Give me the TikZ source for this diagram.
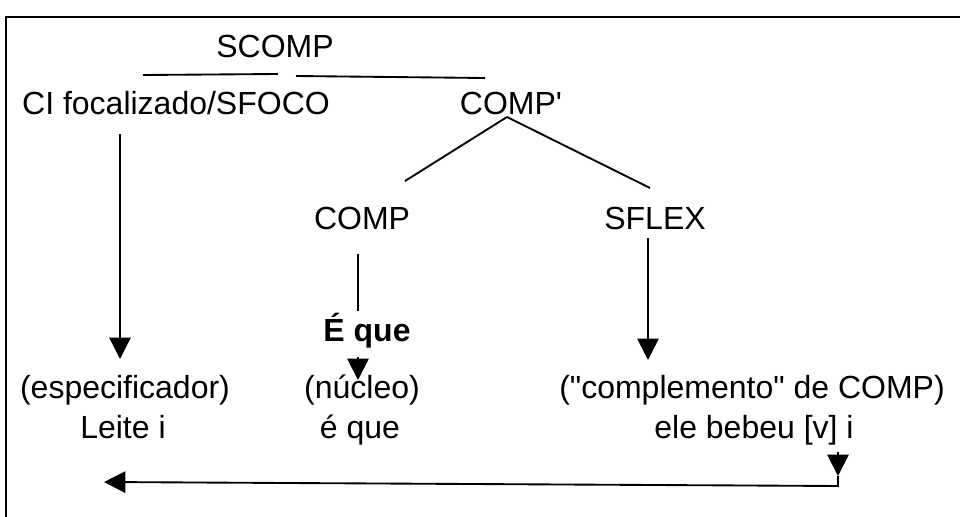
\documentclass[tikz,border=0pt]{standalone}
\usepackage{fontspec}
\setmainfont{Liberation Sans}[Ligatures=TeXOff]
\usetikzlibrary{arrows.meta}
\begin{document}
\begin{tikzpicture}[x=0.75pt,y=-0.75pt,
  lbl/.style={anchor=base,inner sep=0pt,font=\fontsize{24}{28}\selectfont},
  ln/.style={line width=1.4pt},
  arr/.style={line width=1.4pt,-{Triangle[width=16pt,length=16pt]}}]
\useasboundingbox (0,0) rectangle (960,517);
% frame (top and left edges)
\draw[line width=1.4pt] (6,517) -- (6,17) -- (960,17);
% texts
\node[lbl] (scomp) at (275,58) {SCOMP};
\node[lbl] (ci) at (176,114) {CI focalizado/SFOCO};
\node[lbl] (compb) at (511,114) {COMP'};
\node[lbl] (comp) at (362,229) {COMP};
\node[lbl] (sflex) at (655,229) {SFLEX};
\node[lbl] (eque) at (367,341) {\bfseries É que};
\node[lbl] (esp) at (125,398) {(especificador)};
\node[lbl] (nuc) at (362,398) {(núcleo)};
\node[lbl] (cmpl) at (752,398) {("complemento" de COMP)};
\node[lbl] (leite) at (123,438) {Leite i};
\node[lbl] (que) at (360,438) {é que};
\node[lbl] (bebeu) at (754,438) {ele bebeu [v] i};
% SCOMP bar
\coordinate (b1) at (143,75);
\coordinate (b2) at (278,74);
\coordinate (b3) at (296,76);
\coordinate (b4) at (485,78);
\draw[ln] (b1) -- (b2);
\draw[ln] (b3) -- (b4);
% COMP' branches
\coordinate (apex) at (507,117);
\coordinate (lend) at (405,181);
\coordinate (rend) at (650,188);
\draw[ln] (apex) -- (lend);
\draw[ln] (apex) -- (rend);
% CI arrow
\coordinate (ci0) at (120,134);
\coordinate (ci1) at (120,359);
\draw[arr] (ci0) -- (ci1);
% COMP line
\coordinate (c0) at (358,254);
\coordinate (c1) at (358,311);
\draw[ln] (c0) -- (c1);
% E que arrow
\coordinate (e0) at (358,357);
\coordinate (e1) at (358,380);
\draw[arr] (e0) -- (e1);
% SFLEX arrow
\coordinate (s0) at (648,238);
\coordinate (s1) at (648,360);
\draw[arr] (s0) -- (s1);
% bottom arrow
\coordinate (r0) at (838,452);
\coordinate (r1) at (838,476);
\coordinate (r2) at (838,486);
\coordinate (l0) at (104,482);
\draw[arr] (r0) -- (r1);
\draw[arr] (r1) -- (r2) -- (l0);
\end{tikzpicture}
\end{document}
